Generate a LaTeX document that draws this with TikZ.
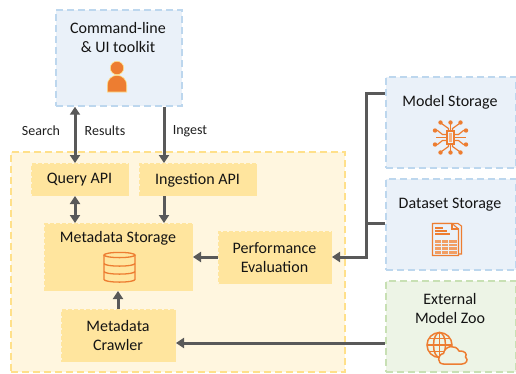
\documentclass[tikz,border=0pt]{standalone}
\usepackage{fontspec}
\setmainfont{Carlito}
\usetikzlibrary{arrows.meta,calc}
\definecolor{bluefill}{HTML}{EAF1F9}
\definecolor{blueline}{HTML}{BDD7EE}
\definecolor{yelbg}{HTML}{FFF6DF}
\definecolor{yelline}{HTML}{FFE08A}
\definecolor{yelbox}{HTML}{FFE59E}
\definecolor{greenfill}{HTML}{EDF4E6}
\definecolor{greenline}{HTML}{C8E0B4}
\definecolor{ico}{HTML}{ED7D31}
\definecolor{conn}{HTML}{595959}
\tikzset{
  base/.style={dashed,dash pattern=on 7pt off 4pt,line width=1.7pt,align=center,anchor=north west,inner sep=0pt},
  bluebox/.style={base,draw=blueline,fill=bluefill},
  greenbox/.style={base,draw=greenline,fill=greenfill},
  outer/.style={base,draw=yelline,fill=yelbg},
  inbox/.style={base,draw=yelbox,fill=yelbox,line width=1pt,dash pattern=on 4pt off 2pt},
  lbl/.style={font=\fontsize{16}{19}\selectfont,align=center,text=black!92,inner sep=0pt},
  small/.style={font=\fontsize{14}{16}\selectfont,text=black!88,inner sep=0pt},
  conn/.style={draw=conn,line width=3pt},
  oneway/.style={conn,-{Triangle[length=8pt,width=10pt]}},
  twoway/.style={conn,{Triangle[length=8pt,width=10pt]}-{Triangle[length=8pt,width=10pt]}},
  icon/.style={draw=ico,line width=1.2pt,fill=none}
}
\begin{document}
\begin{tikzpicture}[x=1pt,y=-1pt]
\useasboundingbox (0,0) rectangle (516,373);
% boxes
\node[outer,minimum width=334pt,minimum height=220pt] (core) at (10,151) {};
\node[bluebox,minimum width=126pt,minimum height=96pt] (cmd) at (55,9) {};
\node[bluebox,minimum width=130pt,minimum height=91pt] (model) at (385,76) {};
\node[bluebox,minimum width=130pt,minimum height=91pt] (data) at (385,178) {};
\node[greenbox,minimum width=130pt,minimum height=91pt] (zoo) at (385,280) {};
\node[inbox,minimum width=97pt,minimum height=32pt] (query) at (31,163) {};
\node[inbox,minimum width=117pt,minimum height=32pt] (ingest) at (139,163) {};
\node[inbox,minimum width=148pt,minimum height=67pt] (meta) at (44,223) {};
\node[inbox,minimum width=113pt,minimum height=52pt] (perf) at (218,231) {};
\node[inbox,minimum width=114pt,minimum height=52pt] (crawl) at (61,309) {};
% texts
\node[lbl] (t1) at (118,37.5) {Command-line\\\& UI toolkit};
\node[lbl] (t2) at (79.5,180) {Query API};
\node[lbl] (t3) at (197.5,180) {Ingestion API};
\node[lbl] (t4) at (118,238) {Metadata Storage};
\node[lbl] (t5) at (274.5,257.5) {Performance\\Evaluation};
\node[lbl] (t6) at (118,335.5) {Metadata\\Crawler};
\node[lbl] (t7) at (450,102) {Model Storage};
\node[lbl] (t8) at (450,205) {Dataset Storage};
\node[lbl] (t9) at (450,308) {External\\Model Zoo};
\node[small] (s1) at (41,131) {Search};
\node[small] (s2) at (105,131) {Results};
\node[small] (s3) at (190,131) {Ingest};
% connectors
\coordinate (qx) at (75,0);
\coordinate (ix) at (164,0);
\coordinate (mx) at (118,0);
\coordinate (bus) at (366,0);
\coordinate (py) at (0,257);
\coordinate (my) at (0,93);
\coordinate (dy) at (0,223.5);
\coordinate (zy) at (0,343);
\draw[twoway] (cmd.south -| qx) -- (query.north -| qx);
\draw[oneway] (cmd.south -| ix) -- (ingest.north -| ix);
\draw[twoway] (query.south -| qx) -- (meta.north -| qx);
\draw[oneway] (ingest.south -| ix) -- (meta.north -| ix);
\draw[oneway] (crawl.north -| mx) -- (meta.south -| mx);
\draw[oneway] (perf.west |- py) -- (meta.east |- py);
\draw[oneway,line join=miter] (model.west |- my) -- (bus |- my) -- (bus |- py) -- (perf.east |- py);
\draw[conn] (data.west |- dy) -- (bus |- dy);
\draw[oneway] (zoo.west |- zy) -- (crawl.east |- zy);
% person icon
\fill[ico,draw=yelline,line width=0.6pt] (117,68) circle (6.7);
\fill[ico,draw=yelline,line width=0.6pt] (107.3,92) -- (107.3,85) arc[start angle=180,end angle=360,radius=9.7] -- (126.7,92) -- cycle;
% database icon
\begin{scope}[icon,line width=1.3pt]
  \draw (104,255) -- (104,279.5) arc[start angle=180,end angle=0,x radius=15.5,y radius=2.6] -- (135,255);
  \draw (119.5,255) ellipse[x radius=15.5,y radius=2.6];
  \draw (104,263.5) arc[start angle=180,end angle=0,x radius=15.5,y radius=2.6];
  \draw (104,271.5) arc[start angle=180,end angle=0,x radius=15.5,y radius=2.6];
\end{scope}
% chip icon
\begin{scope}[shift={(450.5,137.5)},icon]
  \draw (-3.5,-6.5) rectangle (3.5,6.5);
  \fill[ico!60] (-1.5,-4.5) rectangle (1.5,4.5);
  \foreach \s in {1,-1}{
    \draw (\s*3.5,0) -- (\s*15,0);
    \draw (\s*3.5,-3) -- (\s*8,-3) -- (\s*13,-7) -- (\s*15,-7);
    \draw (\s*3.5,3) -- (\s*8,3) -- (\s*13,7) -- (\s*15,7);
    \draw (\s*2,-6.5) -- (\s*2,-9) -- (\s*9,-14);
    \draw (\s*2,6.5) -- (\s*2,9) -- (\s*9,14);
    \draw (0,-6.5) -- (0,-14);
    \draw (0,6.5) -- (0,14);
    \fill[ico] (\s*10,-15) circle (2.2);
    \fill[ico] (\s*10,15) circle (2.2);
    \fill[ico] (\s*15.5,-7) circle (2.2);
    \fill[ico] (\s*15.5,7) circle (2.2);
  }
  \fill[ico] (0,-15) circle (2.2);
  \fill[ico] (0,15) circle (2.2);
\end{scope}
% document icon
\begin{scope}[icon,line width=1.1pt]
  \draw (434,223.5) -- (458,223.5) -- (461.5,226) -- (461.5,254) -- (434,254);
  \draw[fill=bluefill] (432.5,223.5) -- (452,223.5) -- (458.5,229) -- (458.5,255.5) -- (432.5,255.5) -- cycle;
  \draw (452,223.5) -- (452,229) -- (458.5,229);
  \draw (435,228) -- (443,228) (435,231) -- (447,231) (435,234) -- (450,234);
  \fill[ico!75] (434.5,239.5) rectangle (456.5,253.5);
  \draw[bluefill,line width=0.8pt] (434.5,243) -- (456.5,243) (434.5,246.5) -- (456.5,246.5) (434.5,250) -- (456.5,250) (441,239.5) -- (441,253.5) (448,239.5) -- (448,253.5);
\end{scope}
% globe and cloud icon
\begin{scope}[icon,line width=1.5pt]
  \draw (439.5,345) circle (12.5);
  \draw (439.5,345) ellipse[x radius=6,y radius=12.5];
  \draw (439.5,332.5) -- (439.5,357.5);
  \draw (427,345) -- (452,345);
  \draw (429,338.5) -- (450,338.5);
  \draw (429,351.5) -- (450,351.5);
  \draw[fill=greenfill] (443.5,364) .. controls (437,364) and (437,354.5) .. (443.5,353.5)
     .. controls (445,345) and (456,344.5) .. (459,351)
     .. controls (465,350.5) and (467.5,354) .. (465.5,357)
     .. controls (469,360) and (466,364) .. (462,364) -- cycle;
\end{scope}
\end{tikzpicture}
\end{document}
